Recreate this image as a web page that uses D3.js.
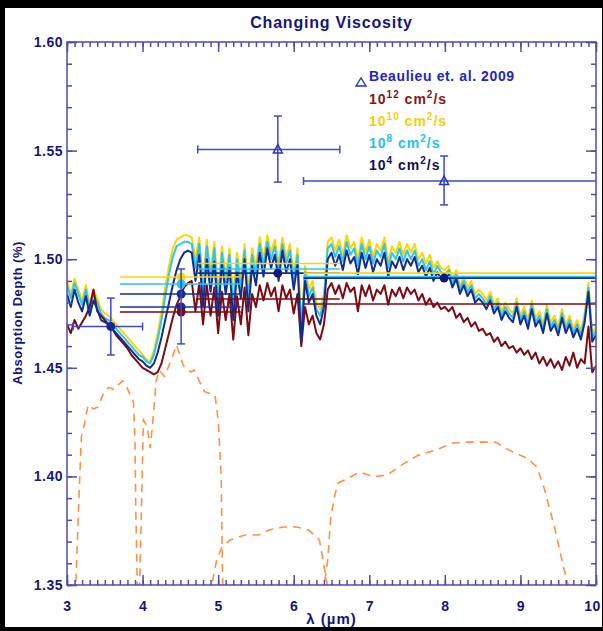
<!DOCTYPE html>
<html>
<head>
<meta charset="utf-8">
<script src="https://cdn.jsdelivr.net/npm/d3@7"></script>
<style>
  html, body { margin: 0; padding: 0; background: #000; }
  svg { display: block; }
  text { font-family: "Liberation Sans", Arial, sans-serif; font-weight: bold; }
</style>
</head>
<body>
<div id="chart"></div>
<script>
// wavelength grid for the model spectra (microns)
var lambdaStart = 3.0, lambdaStep = 0.05;

// model transmission spectra, absorption depth in %
var visc12 = [
  1.470, 1.466, 1.472, 1.468, 1.471, 1.474, 1.478, 1.486, 1.476, 1.474,
  1.472, 1.470, 1.468, 1.465, 1.463, 1.461, 1.459, 1.456, 1.454, 1.452,
  1.450, 1.449, 1.448, 1.447, 1.448, 1.452, 1.459, 1.466, 1.473, 1.479,
  1.483, 1.487, 1.489, 1.490, 1.476, 1.489, 1.470, 1.488, 1.474, 1.487,
  1.466, 1.485, 1.472, 1.484, 1.463, 1.483, 1.470, 1.487, 1.465, 1.484,
  1.478, 1.488, 1.481, 1.489, 1.483, 1.487, 1.476, 1.488, 1.482, 1.486,
  1.475, 1.484, 1.460, 1.478, 1.470, 1.474, 1.466, 1.463, 1.470, 1.486,
  1.489, 1.484, 1.488, 1.482, 1.489, 1.485, 1.487, 1.476, 1.488, 1.483,
  1.488, 1.481, 1.486, 1.484, 1.488, 1.479, 1.486, 1.483, 1.487, 1.482,
  1.487, 1.484, 1.486, 1.481, 1.484, 1.479, 1.482, 1.478, 1.480, 1.477,
  1.478, 1.476, 1.478, 1.473, 1.475, 1.471, 1.473, 1.469, 1.471, 1.467,
  1.468, 1.465, 1.466, 1.462, 1.464, 1.460, 1.462, 1.459, 1.460, 1.457,
  1.459, 1.456, 1.458, 1.454, 1.457, 1.452, 1.455, 1.451, 1.454, 1.450,
  1.453, 1.449, 1.455, 1.451, 1.457, 1.450, 1.454, 1.452, 1.469, 1.448,
  1.451
];
var visc10 = [
  1.490, 1.484, 1.491, 1.486, 1.481, 1.488, 1.479, 1.486, 1.482, 1.477,
  1.475, 1.474, 1.472, 1.470, 1.468, 1.466, 1.464, 1.462, 1.460, 1.458,
  1.456, 1.454, 1.453, 1.458, 1.466, 1.476, 1.487, 1.497, 1.505, 1.509,
  1.510, 1.511, 1.511, 1.510, 1.500, 1.510, 1.488, 1.509, 1.494, 1.508,
  1.484, 1.506, 1.492, 1.505, 1.482, 1.503, 1.490, 1.507, 1.485, 1.505,
  1.496, 1.510, 1.500, 1.511, 1.503, 1.509, 1.498, 1.510, 1.501, 1.507,
  1.493, 1.505, 1.470, 1.497, 1.486, 1.490, 1.480, 1.477, 1.484, 1.508,
  1.510, 1.504, 1.509, 1.502, 1.511, 1.505, 1.508, 1.500, 1.510, 1.503,
  1.509, 1.501, 1.507, 1.504, 1.510, 1.499, 1.506, 1.503, 1.508, 1.502,
  1.507, 1.503, 1.507, 1.500, 1.503, 1.498, 1.502, 1.496, 1.499, 1.496,
  1.495, 1.497, 1.491, 1.495, 1.488, 1.492, 1.487, 1.490, 1.484, 1.486,
  1.484, 1.481, 1.485, 1.479, 1.482, 1.476, 1.480, 1.477, 1.475, 1.482,
  1.474, 1.478, 1.472, 1.481, 1.473, 1.476, 1.470, 1.479, 1.471, 1.474,
  1.469, 1.477, 1.470, 1.474, 1.468, 1.472, 1.467, 1.475, 1.489, 1.466,
  1.469
];
var visc8 = [
  1.488, 1.482, 1.489, 1.484, 1.479, 1.486, 1.477, 1.484, 1.480, 1.475,
  1.473, 1.472, 1.470, 1.468, 1.466, 1.464, 1.462, 1.460, 1.458, 1.456,
  1.455, 1.453, 1.452, 1.456, 1.463, 1.472, 1.483, 1.493, 1.501, 1.506,
  1.507, 1.508, 1.508, 1.507, 1.496, 1.507, 1.485, 1.506, 1.491, 1.505,
  1.480, 1.503, 1.489, 1.502, 1.478, 1.500, 1.487, 1.504, 1.482, 1.502,
  1.493, 1.507, 1.497, 1.508, 1.500, 1.506, 1.495, 1.507, 1.498, 1.504,
  1.490, 1.502, 1.467, 1.494, 1.483, 1.487, 1.477, 1.474, 1.481, 1.505,
  1.507, 1.501, 1.506, 1.499, 1.508, 1.502, 1.505, 1.497, 1.507, 1.500,
  1.506, 1.498, 1.504, 1.501, 1.507, 1.496, 1.503, 1.500, 1.505, 1.499,
  1.504, 1.500, 1.504, 1.497, 1.500, 1.495, 1.499, 1.493, 1.497, 1.494,
  1.493, 1.495, 1.489, 1.493, 1.486, 1.490, 1.485, 1.488, 1.482, 1.484,
  1.482, 1.479, 1.483, 1.477, 1.480, 1.474, 1.478, 1.475, 1.473, 1.480,
  1.472, 1.476, 1.470, 1.479, 1.471, 1.474, 1.468, 1.477, 1.469, 1.472,
  1.467, 1.475, 1.468, 1.472, 1.466, 1.470, 1.465, 1.473, 1.487, 1.464,
  1.467
];
var visc4 = [
  1.484, 1.478, 1.486, 1.480, 1.476, 1.483, 1.474, 1.481, 1.477, 1.472,
  1.471, 1.470, 1.468, 1.466, 1.464, 1.462, 1.460, 1.458, 1.456, 1.454,
  1.453, 1.451, 1.450, 1.452, 1.457, 1.464, 1.472, 1.480, 1.488, 1.495,
  1.500, 1.503, 1.504, 1.503, 1.490, 1.502, 1.478, 1.500, 1.485, 1.499,
  1.474, 1.498, 1.484, 1.496, 1.472, 1.494, 1.482, 1.500, 1.476, 1.497,
  1.488, 1.503, 1.492, 1.505, 1.496, 1.502, 1.490, 1.504, 1.494, 1.500,
  1.486, 1.498, 1.462, 1.490, 1.480, 1.484, 1.474, 1.470, 1.478, 1.500,
  1.503, 1.497, 1.502, 1.495, 1.504, 1.498, 1.501, 1.493, 1.503, 1.496,
  1.502, 1.494, 1.500, 1.497, 1.503, 1.492, 1.499, 1.496, 1.501, 1.495,
  1.500, 1.497, 1.501, 1.494, 1.497, 1.492, 1.496, 1.490, 1.494, 1.491,
  1.490, 1.493, 1.487, 1.491, 1.484, 1.488, 1.483, 1.486, 1.480, 1.482,
  1.480, 1.477, 1.481, 1.475, 1.478, 1.472, 1.476, 1.473, 1.471, 1.478,
  1.470, 1.474, 1.468, 1.477, 1.469, 1.472, 1.466, 1.475, 1.467, 1.470,
  1.465, 1.473, 1.466, 1.470, 1.464, 1.468, 1.463, 1.471, 1.485, 1.462,
  1.465
];

// IRAC filter response curves (scaled, dashed) : [lambda, depth]
var filterCh1 = [[3.00,1.349],[3.115,1.349],[3.16,1.392],[3.19,1.418],[3.23,1.424],[3.28,1.433],[3.35,1.431],
  [3.41,1.432],[3.48,1.438],[3.55,1.441],[3.62,1.440],[3.67,1.442],[3.74,1.444],[3.78,1.442],[3.83,1.438],
  [3.88,1.434],[3.90,1.415],[3.91,1.385],[3.93,1.349],[3.98,1.349]];
var filterCh2 = [[3.92,1.349],[3.96,1.349],[3.99,1.392],[4.01,1.426],[4.06,1.423],[4.10,1.413],[4.13,1.423],
  [4.18,1.444],[4.22,1.449],[4.29,1.446],[4.38,1.4536],[4.45,1.4605],[4.54,1.451],[4.64,1.448],[4.68,1.449],
  [4.75,1.444],[4.82,1.439],[4.91,1.438],[4.96,1.437],[5.00,1.426],[5.04,1.400],[5.06,1.349],[5.12,1.349]];
var filterCh3 = [[4.80,1.349],[4.91,1.349],[4.98,1.3615],[5.05,1.3675],[5.16,1.3707],[5.35,1.373],[5.53,1.373],
  [5.67,1.3753],[5.86,1.3767],[6.04,1.3767],[6.20,1.3753],[6.34,1.3707],[6.41,1.357],[6.45,1.349],[6.55,1.349]];
var filterCh4 = [[6.30,1.349],[6.40,1.349],[6.45,1.3615],[6.49,1.3813],[6.55,1.3924],[6.59,1.397],[6.73,1.3993],
  [6.87,1.402],[7.06,1.3998],[7.24,1.4007],[7.43,1.4053],[7.65,1.4098],[7.88,1.4121],[8.11,1.4154],[8.30,1.4158],
  [8.48,1.4158],[8.67,1.4158],[8.85,1.4121],[9.08,1.4085],[9.22,1.4043],[9.31,1.3951],[9.45,1.3767],
  [9.57,1.3583],[9.64,1.349],[10.0,1.349]];

// Beaulieu et al. 2009 points: lambda, depth, x-err low/high, depth err low/high
var obsTriangles = [
  {x: 5.79, y: 1.5505, x0: 4.73, x1: 6.61, y0: 1.5355, y1: 1.5659},
  {x: 7.99, y: 1.5360, x0: 6.13, x1: 10.3, y0: 1.5250, y1: 1.5475}
];
var obsCircles = [
  {x: 3.58, y: 1.4690, x0: 3.08, x1: 4.00, y0: 1.4559, y1: 1.4821},
  {x: 4.51, y: 1.4780, x0: null, x1: null, y0: 1.4610, y1: 1.4955}
];

// band-averaged model values, drawn as horizontal bars
var bandKeys = ["v10", "v8", "v4", "obs", "v12"];
var band45 = {x: 4.51, x0: 3.70, x1: 5.30, v10: 1.4918, v8: 1.4886, v4: 1.4840, obs: 1.4780, v12: 1.4757};
var band58 = {x: 5.79, x0: 4.73, x1: 6.61, v10: 1.4980, v8: 1.4955, v4: 1.4936, v12: 1.4817};
var band80 = {x: 7.99, x0: 6.13, x1: 10.3, v10: 1.4936, v8: 1.4920, v4: 1.4913, v12: 1.4794};

var legendLabels = [
  {base: "10", exp: "12", key: "v12"},
  {base: "10", exp: "10", key: "v10"},
  {base: "10", exp: "8", key: "v8"},
  {base: "10", exp: "4", key: "v4"}
];
var xTicks = [3, 4, 5, 6, 7, 8, 9, 10];
var yTicks = [1.35, 1.40, 1.45, 1.50, 1.55, 1.60];

var colors = {v12: "#7d0a12", v10: "#ffd400", v8: "#2cc4f2", v4: "#132c8e", obs: "#1c2fae"};
var legendColors = {v12: "#8a1414", v10: "#ffcc00", v8: "#22c0f4", v4: "#0e0e5c"};
var axisColor = "#4c4cae", textColor = "#16167a", obsColor = "#3b48d0";

var W = 603, H = 631;
var margin = {left: 67, right: 596, top: 42, bottom: 585};

var svg = d3.select("#chart").append("svg").attr("width", W).attr("height", H);
svg.append("rect").attr("width", W).attr("height", H).attr("fill", "#000");
svg.append("rect").attr("x", 5).attr("y", 8).attr("width", 597).attr("height", 619).attr("fill", "#fff");

var x = d3.scaleLinear().domain([3, 10]).range([margin.left, margin.right]);
var y = d3.scaleLinear().domain([1.35, 1.60]).range([margin.bottom, margin.top]);

svg.append("clipPath").attr("id", "plotclip").append("rect")
  .attr("x", margin.left).attr("y", margin.top)
  .attr("width", margin.right - margin.left).attr("height", margin.bottom - margin.top);

var plot = svg.append("g").attr("clip-path", "url(#plotclip)");

// dashed filter curves
var fline = d3.line().x(function(d) { return x(d[0]); }).y(function(d) { return y(d[1]); });
[filterCh1, filterCh2, filterCh3, filterCh4].forEach(function(f) {
  plot.append("path").attr("d", fline(f))
    .attr("fill", "none").attr("stroke", "#ff9046").attr("stroke-width", 1.6)
    .attr("stroke-dasharray", "8,6");
});

// spectra
var sline = d3.line()
  .x(function(d, i) { return x(lambdaStart + i * lambdaStep); })
  .y(function(d) { return y(d); });
[["v10", visc10], ["v8", visc8], ["v12", visc12], ["v4", visc4]].forEach(function(s) {
  plot.append("path").attr("d", sline(s[1]))
    .attr("fill", "none").attr("stroke", colors[s[0]]).attr("stroke-width", 2)
    .attr("stroke-linejoin", "round");
});

// band averages
[band45, band58, band80].forEach(function(b) {
  bandKeys.forEach(function(k) {
    if (b[k] === undefined) return;
    plot.append("line")
      .attr("x1", x(b.x0)).attr("x2", x(b.x1))
      .attr("y1", y(b[k])).attr("y2", y(b[k]))
      .attr("stroke", colors[k]).attr("stroke-width", 1.6);
  });
});
// circles at band centres
bandKeys.forEach(function(k) {
  if (band45[k] === undefined) return;
  plot.append("circle").attr("cx", x(band45.x)).attr("cy", y(band45[k])).attr("r", 4.5)
    .attr("fill", k == "obs" ? colors.v4 : colors[k]);
});
[band58, band80].forEach(function(b) {
  plot.append("circle").attr("cx", x(b.x)).attr("cy", y(b.v4)).attr("r", 4.5).attr("fill", "#0c1a7a");
});

// observational error bars
function errBar(d) {
  var g = plot.append("g").attr("stroke", obsColor).attr("stroke-width", 1.5).attr("fill", "none");
  if (d.x0 !== null) {
    g.append("line").attr("x1", x(d.x0)).attr("x2", x(d.x1)).attr("y1", y(d.y)).attr("y2", y(d.y));
    g.append("line").attr("x1", x(d.x0)).attr("x2", x(d.x0)).attr("y1", y(d.y) - 4).attr("y2", y(d.y) + 4);
    g.append("line").attr("x1", x(d.x1)).attr("x2", x(d.x1)).attr("y1", y(d.y) - 4).attr("y2", y(d.y) + 4);
  }
  g.append("line").attr("x1", x(d.x)).attr("x2", x(d.x)).attr("y1", y(d.y0)).attr("y2", y(d.y1));
  g.append("line").attr("x1", x(d.x) - 4).attr("x2", x(d.x) + 4).attr("y1", y(d.y0)).attr("y2", y(d.y0));
  g.append("line").attr("x1", x(d.x) - 4).attr("x2", x(d.x) + 4).attr("y1", y(d.y1)).attr("y2", y(d.y1));
  return g;
}
obsTriangles.forEach(function(d) {
  errBar(d);
  var cx = x(d.x), cy = y(d.y);
  plot.append("path")
    .attr("d", "M" + (cx - 4.5) + "," + (cy + 3.5) + "L" + (cx + 4.5) + "," + (cy + 3.5) + "L" + cx + "," + (cy - 5) + "Z")
    .attr("fill", "none").attr("stroke", "#2233c0").attr("stroke-width", 1.5);
});
obsCircles.forEach(function(d) {
  errBar(d);
});
plot.append("circle").attr("cx", x(obsCircles[0].x)).attr("cy", y(obsCircles[0].y)).attr("r", 4.5).attr("fill", "#122a90");

// axes with inward ticks
function styleAxis(g) {
  g.select(".domain").remove();
  g.selectAll("line").attr("stroke", axisColor).attr("stroke-width", 1.5);
  g.selectAll("text").attr("fill", textColor).style("font-size", "14px").style("letter-spacing", "0.5px");
}
var xMinor = d3.range(30, 101).map(function(v) { return v / 10; });
var yMinor = d3.range(135, 161).map(function(v) { return v / 100; });

svg.append("g").attr("transform", "translate(0," + margin.bottom + ")")
  .call(d3.axisBottom(x).tickValues(xMinor).tickSize(-5).tickFormat("")).call(styleAxis);
var xAx = svg.append("g").attr("transform", "translate(0," + margin.bottom + ")")
  .call(d3.axisBottom(x).tickValues(xTicks).tickSize(-10).tickPadding(16).tickFormat(d3.format("d"))).call(styleAxis);
xAx.selectAll("text").filter(function(d) { return d == 10; }).attr("dx", -4);
svg.append("g").attr("transform", "translate(0," + margin.top + ")")
  .call(d3.axisTop(x).tickValues(xMinor).tickSize(-5).tickFormat("")).call(styleAxis);
svg.append("g").attr("transform", "translate(0," + margin.top + ")")
  .call(d3.axisTop(x).tickValues(xTicks).tickSize(-10).tickFormat("")).call(styleAxis);

svg.append("g").attr("transform", "translate(" + margin.left + ",0)")
  .call(d3.axisLeft(y).tickValues(yMinor).tickSize(-5).tickFormat("")).call(styleAxis);
svg.append("g").attr("transform", "translate(" + margin.left + ",0)")
  .call(d3.axisLeft(y).tickValues(yTicks).tickSize(-10).tickPadding(4).tickFormat(d3.format(".2f"))).call(styleAxis);
svg.append("g").attr("transform", "translate(" + margin.right + ",0)")
  .call(d3.axisRight(y).tickValues(yMinor).tickSize(-5).tickFormat("")).call(styleAxis);
svg.append("g").attr("transform", "translate(" + margin.right + ",0)")
  .call(d3.axisRight(y).tickValues(yTicks).tickSize(-10).tickFormat("")).call(styleAxis);

svg.append("rect").attr("x", margin.left).attr("y", margin.top)
  .attr("width", margin.right - margin.left).attr("height", margin.bottom - margin.top)
  .attr("fill", "none").attr("stroke", axisColor).attr("stroke-width", 1.5);

// title and axis labels
svg.append("text").attr("x", (margin.left + margin.right) / 2).attr("y", 28)
  .attr("text-anchor", "middle").attr("fill", textColor).style("font-size", "16px")
  .style("letter-spacing", "0.8px").text("Changing Viscosity");
svg.append("text").attr("x", (margin.left + margin.right) / 2).attr("y", 624)
  .attr("text-anchor", "middle").attr("fill", textColor).style("font-size", "15px")
  .style("letter-spacing", "1px").text("λ (µm)");
svg.append("text").attr("transform", "translate(22,313) rotate(-90)")
  .attr("text-anchor", "middle").attr("fill", textColor).style("font-size", "13px")
  .style("letter-spacing", "0.5px").text("Absorption Depth (%)");

// legend
var leg = svg.append("g");
leg.append("path").attr("d", "M356,86 L366,86 L361,78 Z")
  .attr("fill", "none").attr("stroke", "#2233c0").attr("stroke-width", 1.4);
leg.append("text").attr("x", 369).attr("y", 81).attr("fill", "#2424c4")
  .style("font-size", "14px").style("letter-spacing", "0.6px").text("Beaulieu et. al. 2009");
legendLabels.forEach(function(l, i) {
  var t = leg.append("text").attr("x", 369).attr("y", 104 + i * 22)
    .attr("fill", legendColors[l.key]).style("font-size", "14px").style("letter-spacing", "1px");
  t.append("tspan").text(l.base);
  t.append("tspan").attr("dy", -6).style("font-size", "10px").text(l.exp);
  t.append("tspan").attr("dy", 6).text(" cm");
  t.append("tspan").attr("dy", -6).style("font-size", "10px").text("2");
  t.append("tspan").attr("dy", 6).text("/s");
});
</script>
</body>
</html>
